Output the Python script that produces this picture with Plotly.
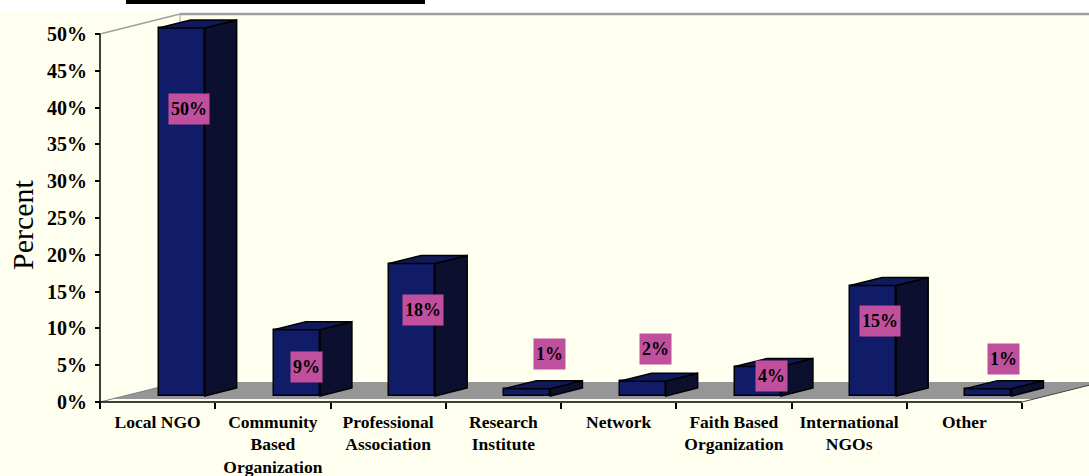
import plotly.graph_objects as go

# ---------------- data ----------------
categories = ["Local NGO", "Community<br>Based<br>Organization", "Professional<br>Association",
              "Research<br>Institute", "Network", "Faith Based<br>Organization",
              "International<br>NGOs", "Other"]
values = [50, 9, 18, 1, 2, 4, 15, 1]
y_ticks = [0, 5, 10, 15, 20, 25, 30, 35, 40, 45, 50]
y_ticktext = [f"{v}%" for v in y_ticks]
label_text = [f"{v}%" for v in values]

# label placement (layout only): x offset from category centre, y in axis units
label_dx = [0.27, 0.29, 0.30, 0.40, 0.32, 0.33, 0.27, 0.34]
label_y = [39.8, 4.8, 12.5, 6.5, 7.2, 3.5, 11.0, 5.8]

# ---------------- geometry / style ----------------
W, H = 1089, 476
X0, Y0 = 100, 402          # pixel of (0,0) front
SX, SY = 115.25, 7.36      # px per unit
ML, MT, PB = 90, 11, 408   # left margin, top margin, plot bottom px
DX, DY = 80 / SX, 20 / SY  # full depth offset in axis units
FRONT, BDEPTH = 0.3, 0.4   # bar front plane & bar depth (fractions of depth)
BAR_W = 0.4

CREAM = "#FFFFF0"
NAVY = "#111C68"
SIDE = "#0C0F2E"
TOP = "#101A5A"
PINK = "#C0509E"
GRAY = "#969696"
SERIF = "Liberation Serif"

n = len(values)
centers = [i + 0.5 for i in range(n)]
bx = [c + FRONT * DX for c in centers]
base = FRONT * DY

fig = go.Figure()
fig.add_trace(go.Bar(
    x=bx, y=values, base=base, width=BAR_W,
    marker=dict(color=NAVY, line=dict(color="black", width=1.5)),
    hoverinfo="skip", showlegend=False))

shapes = []
# floor
f0 = 0.15
shapes.append(dict(type="path", xref="x", yref="y", layer="below",
                   path=f"M {f0*DX},{f0*DY} L {DX},{DY} L {n+DX},{DY} L {n+f0*DX},{f0*DY} Z",
                   fillcolor=GRAY, line=dict(width=0)))
# wall edges
for (xa, ya, xb, yb, col, w) in [
    (0, 50, DX, 50 + DY, "#A0A0A0", 1.5),
    (DX, 50 + DY, n + DX + 1, 50 + DY, "#A0A0A0", 2.5),
    (DX, DY, DX, 50 + DY, "#A0A0A0", 1),
    (0, 0, DX, DY, "#808080", 1),
    (n, 0, n + DX, DY, "#404040", 1),
]:
    shapes.append(dict(type="line", xref="x", yref="y", layer="below",
                       x0=xa, y0=ya, x1=xb, y1=yb, line=dict(color=col, width=w)))
# axis lines
shapes.append(dict(type="line", xref="x", yref="y", layer="below", x0=0, y0=0, x1=0, y1=50,
                   line=dict(color="black", width=1.5)))
shapes.append(dict(type="line", xref="x", yref="y", layer="below", x0=0, y0=0, x1=n, y1=0,
                   line=dict(color="black", width=1.5)))
# 3D faces of bars
ddx, ddy = BDEPTH * DX, BDEPTH * DY
for x, v in zip(bx, values):
    xl, xr = x - BAR_W / 2, x + BAR_W / 2
    b, t = base, base + v
    shapes.append(dict(type="path", xref="x", yref="y", layer="above",
                       path=f"M {xr},{b} L {xr},{t} L {xr+ddx},{t+ddy} L {xr+ddx},{b+ddy} Z",
                       fillcolor=SIDE, line=dict(color="black", width=1.5)))
    shapes.append(dict(type="path", xref="x", yref="y", layer="above",
                       path=f"M {xl},{t} L {xr},{t} L {xr+ddx},{t+ddy} L {xl+ddx},{t+ddy} Z",
                       fillcolor=TOP, line=dict(color="black", width=1.5)))
# white strip at the very top and black bar
ph = PB - MT
pw = W - ML
shapes.append(dict(type="rect", xref="paper", yref="paper", layer="above",
                   x0=-0.2, x1=1.1, y0=1, y1=1.2, fillcolor="white", line=dict(width=0)))
shapes.append(dict(type="rect", xref="paper", yref="paper", layer="above",
                   x0=(126 - ML) / pw, x1=(425 - ML) / pw,
                   y0=1 + (MT - 4) / ph, y1=1 + MT / ph, fillcolor="black", line=dict(width=0)))

annotations = []
for c, dx_, ly, txt in zip(centers, label_dx, label_y, label_text):
    annotations.append(dict(x=c + dx_, y=ly, xref="x", yref="y", text=txt, showarrow=False,
                            xanchor="center", yanchor="middle", bgcolor=PINK, borderpad=0,
                            width=9 * len(txt) + 13, height=30,
                            font=dict(family=SERIF, size=18, color="black", weight="bold")))
annotations.append(dict(x=(22 - ML) / pw, y=(Y0 - 225) / SY, xref="paper", yref="y",
                        text="Percent", textangle=-90, showarrow=False,
                        xanchor="center", yanchor="middle",
                        font=dict(family=SERIF, size=30, color="black")))

fig.update_layout(
    width=W, height=H,
    margin=dict(l=ML, r=0, t=MT, b=H - PB, pad=0),
    paper_bgcolor=CREAM, plot_bgcolor=CREAM,
    shapes=shapes, annotations=annotations, showlegend=False, bargap=0,
    xaxis=dict(range=[(ML - X0) / SX, (W - X0) / SX], anchor="free",
               position=(PB - Y0) / ph, showgrid=False, zeroline=False, showline=False,
               tickmode="array", tickvals=centers, ticktext=categories, ticks="",
               ticklabelstandoff=7,
               tickfont=dict(family=SERIF, size=17.5, color="black", weight="bold"),
               minor=dict(tickmode="array", tickvals=list(range(n + 1)), ticks="outside",
                          ticklen=6, tickwidth=1.5, tickcolor="black", showgrid=False),
               fixedrange=True),
    yaxis=dict(range=[(Y0 - PB) / SY, (Y0 - MT) / SY], anchor="free",
               position=(X0 - ML) / pw, showgrid=False, zeroline=False, showline=False,
               tickmode="array", tickvals=y_ticks, ticktext=y_ticktext,
               ticks="outside", ticklen=5, tickwidth=1.5, tickcolor="black",
               ticklabelstandoff=4,
               tickfont=dict(family=SERIF, size=20, color="black", weight="bold"),
               fixedrange=True),
)

fig.write_html("out.html")
